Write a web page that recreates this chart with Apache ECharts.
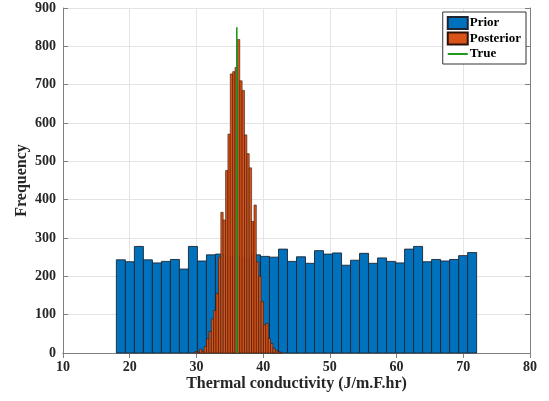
<!DOCTYPE html>
<html>
<head>
<meta charset="utf-8">
<script src="https://cdn.jsdelivr.net/npm/echarts@6/dist/echarts.min.js"></script>
<style>
html,body{margin:0;padding:0;background:#fff;}
#chart{width:549px;height:401px;}
</style>
</head>
<body>
<div id="chart"></div>
<script>
// Prior histogram: 40 bins from 18, width 1.35
var priorStart = 18;
var priorWidth = 1.35;
var priorCounts = [243, 238, 278, 243, 235, 239, 244, 219, 278, 240,
                   256, 258, 250, 252, 247, 256, 252, 250, 271, 239,
                   251, 234, 267, 258, 261, 229, 242, 260, 234, 248,
                   239, 235, 271, 278, 238, 244, 240, 244, 254, 262];
// Posterior histogram: 37 bins from 29.75, width 0.355
var postStart = 29.75;
var postWidth = 0.355;
var postCounts = [4, 2, 10, 5, 17, 37, 56, 89, 111, 155,
                  250, 367, 347, 476, 571, 728, 734, 745, 818, 710,
                  685, 569, 520, 483, 343, 386, 238, 200, 134, 73,
                  77, 38, 25, 12, 6, 3, 2];
// True value line
var trueValue = 36.05;
var trueHeight = 850;
var seriesNames = ['Prior', 'Posterior', 'True'];
var xTicks = [10, 20, 30, 40, 50, 60, 70, 80];
var yTicks = [0, 100, 200, 300, 400, 500, 600, 700, 800, 900];

function binData(start, width, counts) {
  return counts.map(function (c, i) {
    return [start + i * width, start + (i + 1) * width, c];
  });
}

function makeRender(fill, stroke, lw) {
  return function (params, api) {
    var p0 = api.coord([api.value(0), 0]);
    var p1 = api.coord([api.value(1), api.value(2)]);
    return {
      type: 'rect',
      shape: { x: p0[0], y: p1[1], width: p1[0] - p0[0], height: p0[1] - p1[1] },
      style: { fill: fill, stroke: stroke, lineWidth: lw }
    };
  };
}

var font = 'Liberation Serif';
var axisColor = '#808080';

var chart = echarts.init(document.getElementById('chart'), null, { renderer: 'canvas' });
chart.setOption({
  animation: false,
  backgroundColor: '#fff',
  grid: { left: 63, right: 19, top: 8, bottom: 48, containLabel: false },
  legend: {
    orient: 'vertical',
    right: 23,
    top: 12,
    itemWidth: 20,
    itemHeight: 12,
    itemGap: 1.5,
    padding: [4, 5, 3, 4],
    borderColor: '#333',
    borderWidth: 1,
    backgroundColor: '#fff',
    textStyle: { fontFamily: font, fontWeight: 'bold', fontSize: 13, lineHeight: 14, color: '#000', padding: [0, 0, 0, -3] },
    data: [
      { name: seriesNames[0], icon: 'rect' },
      { name: seriesNames[1], icon: 'rect' },
      { name: seriesNames[2], itemStyle: { color: 'rgba(0,0,0,0)', borderColor: 'rgba(0,0,0,0)', borderWidth: 0, opacity: 0 } }
    ]
  },
  xAxis: [{
    type: 'value', min: xTicks[0], max: xTicks[xTicks.length - 1], interval: 10,
    name: 'Thermal conductivity (J/m.F.hr)',
    nameLocation: 'middle', nameGap: 23, nameMoveOverlap: false,
    nameTextStyle: { fontFamily: font, fontWeight: 'bold', fontSize: 16, color: '#262626' },
    axisLine: { onZero: false, lineStyle: { color: axisColor } },
    axisTick: { inside: true, length: 5, lineStyle: { color: axisColor } },
    axisLabel: { fontFamily: font, fontWeight: 'bold', fontSize: 14, color: '#262626', margin: 7 },
    splitLine: { show: true, lineStyle: { color: '#e4e4e4' } }
  }, {
    type: 'value', min: xTicks[0], max: xTicks[xTicks.length - 1], interval: 10, position: 'top',
    axisLine: { show: true, lineStyle: { color: axisColor } },
    axisTick: { inside: true, length: 5, lineStyle: { color: axisColor } },
    axisLabel: { show: false }, splitLine: { show: false }
  }],
  yAxis: [{
    type: 'value', min: yTicks[0], max: yTicks[yTicks.length - 1], interval: 100,
    name: 'Frequency',
    nameLocation: 'middle', nameGap: 41, nameRotate: 90, nameMoveOverlap: false,
    nameTextStyle: { fontFamily: font, fontWeight: 'bold', fontSize: 16, color: '#262626', verticalAlign: 'middle' },
    axisLine: { show: true, lineStyle: { color: axisColor } },
    axisTick: { show: true, inside: true, length: 5, lineStyle: { color: axisColor } },
    axisLabel: { fontFamily: font, fontWeight: 'bold', fontSize: 14, color: '#262626', margin: 7 },
    splitLine: { show: true, lineStyle: { color: '#e4e4e4' } }
  }, {
    type: 'value', min: yTicks[0], max: yTicks[yTicks.length - 1], interval: 100, position: 'right',
    axisLine: { show: true, lineStyle: { color: axisColor } },
    axisTick: { show: true, inside: true, length: 5, lineStyle: { color: axisColor } },
    axisLabel: { show: false }, splitLine: { show: false }
  }],
  series: [{
    name: seriesNames[0], type: 'custom',
    xAxisIndex: 0, yAxisIndex: 0,
    itemStyle: { color: '#0072BD', borderColor: '#1c2530', borderWidth: 0.8 },
    renderItem: makeRender('#0072BD', '#1c2530', 0.9),
    encode: { x: [0, 1], y: 2 },
    data: binData(priorStart, priorWidth, priorCounts),
    z: 2
  }, {
    name: seriesNames[1], type: 'custom',
    xAxisIndex: 0, yAxisIndex: 0,
    itemStyle: { color: '#D95319', borderColor: '#2a1208', borderWidth: 0.8 },
    renderItem: makeRender('#D95319', '#3a1a0a', 0.6),
    encode: { x: [0, 1], y: 2 },
    data: binData(postStart, postWidth, postCounts),
    z: 3
  }, {
    name: seriesNames[2], type: 'line',
    xAxisIndex: 0, yAxisIndex: 0,
    symbol: 'none',
    lineStyle: { color: '#1f9a1f', width: 1.6 },
    itemStyle: { color: '#1f9a1f' },
    data: [[trueValue, 0], [trueValue, trueHeight]],
    z: 4
  }]
});
</script>
</body>
</html>
